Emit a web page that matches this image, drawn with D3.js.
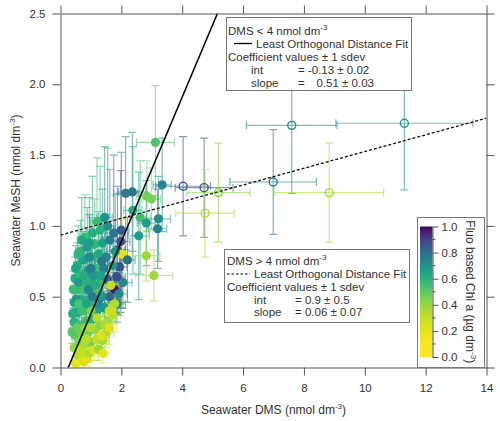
<!DOCTYPE html>
<html>
<head>
<meta charset="utf-8">
<script src="https://cdn.jsdelivr.net/npm/d3@7"></script>
<style>
  body { margin: 0; background: #fff; }
  svg { display: block; font-family: "Liberation Sans", Arial, sans-serif; }
</style>
</head>
<body>
<svg id="chart" width="500" height="421"></svg>
<script>
// ---- data ----
// DMS < 4 nmol dm-3 (filled markers)
const lowDMS = [
  3.12,2.14,2.36,3.34,2.84,2.99,2.38,2.62,3.22,2.82,
  3.19,2.57,2.00,1.98,1.87,2.03,2.82,3.07,1.78,1.94,
  2.05,1.67,2.20,0.50,0.62,0.75,0.88,0.55,0.70,0.95,
  1.10,1.25,0.45,0.60,0.80,1.00,1.18,1.38,1.50,0.48,
  0.72,0.92,1.15,0.45,0.62,0.85,1.05,1.30,1.55,1.72,
  0.55,0.78,1.20,1.45,1.85,0.45,0.68,0.95,1.12,1.38,
  1.62,1.92,0.52,0.80,1.02,1.28,1.55,1.85,0.48,0.65,
  0.90,1.15,1.42,1.72,0.55,0.75,1.00,1.25,1.50,0.65,
  0.88,1.12,1.38,1.62,0.80,1.05,1.30,1.55,1.75,1.20,
  1.45,0.60,0.70,1.00,1.25,0.85,1.10,1.65,1.78,1.60,
  1.45,1.35,1.60,0.95,0.70,1.35,1.80,0.40,0.42,0.50,
  0.58,0.38,0.52,0.75,0.92,1.15,1.32,0.60,0.85,1.05,
  0.75,1.00,0.55,0.80,1.00,0.65,0.85,1.40,1.20,0.95];
const lowMeSH = [
  1.59,1.23,1.24,1.29,1.21,1.19,1.11,1.06,1.05,1.02,
  0.98,0.93,0.97,0.89,0.83,0.80,0.79,0.65,0.55,0.71,
  0.60,0.42,0.76,0.03,0.05,0.04,0.06,0.09,0.10,0.10,
  0.12,0.13,0.14,0.17,0.16,0.18,0.20,0.19,0.24,0.23,
  0.24,0.25,0.27,0.32,0.30,0.33,0.34,0.30,0.33,0.37,
  0.39,0.40,0.40,0.42,0.45,0.46,0.48,0.47,0.52,0.50,
  0.50,0.52,0.55,0.56,0.60,0.60,0.62,0.64,0.63,0.66,
  0.68,0.70,0.70,0.72,0.72,0.76,0.78,0.80,0.78,0.82,
  0.85,0.87,0.88,0.90,0.92,0.95,0.97,1.00,0.95,1.03,
  1.06,0.60,0.40,0.40,0.45,0.60,0.65,0.58,0.45,0.40,
  0.30,0.22,0.28,0.78,0.90,0.75,0.82,0.38,0.55,0.70,
  0.80,0.25,0.48,0.55,0.55,0.58,0.65,0.45,0.45,0.50,
  0.65,0.70,0.28,0.28,0.28,0.12,0.20,0.10,0.35,0.88];
const lowDMSErr = [
  0.62,0.40,0.45,0.30,0.35,0.30,0.30,0.35,0.40,0.30,
  0.30,0.35,0.25,0.30,0.25,0.30,0.45,0.62,0.20,0.25,
  0.30,0.20,0.25,0.10,0.12,0.12,0.15,0.10,0.15,0.15,
  0.18,0.20,0.10,0.12,0.15,0.18,0.20,0.22,0.25,0.10,
  0.15,0.18,0.20,0.10,0.12,0.15,0.18,0.22,0.25,0.25,
  0.12,0.15,0.20,0.22,0.28,0.10,0.15,0.18,0.20,0.22,
  0.25,0.28,0.12,0.15,0.18,0.20,0.25,0.28,0.12,0.15,
  0.18,0.20,0.22,0.25,0.12,0.15,0.18,0.22,0.25,0.15,
  0.18,0.20,0.25,0.25,0.18,0.20,0.22,0.25,0.28,0.22,
  0.25,0.12,0.12,0.18,0.20,0.15,0.18,0.25,0.25,0.22,
  0.22,0.20,0.25,0.18,0.15,0.22,0.28,0.10,0.10,0.12,
  0.12,0.10,0.12,0.15,0.18,0.20,0.22,0.12,0.15,0.18,
  0.15,0.18,0.10,0.15,0.18,0.12,0.15,0.20,0.20,0.18];
const lowMeSHErr = [
  0.40,0.40,0.42,0.33,0.25,0.22,0.45,0.40,0.30,0.30,
  0.28,0.45,0.55,0.50,0.45,0.25,0.18,0.18,0.12,0.25,
  0.18,0.12,0.30,0.05,0.05,0.05,0.05,0.06,0.06,0.06,
  0.07,0.08,0.06,0.07,0.07,0.08,0.08,0.09,0.10,0.08,
  0.08,0.09,0.10,0.10,0.10,0.10,0.10,0.12,0.12,0.12,
  0.12,0.12,0.12,0.12,0.13,0.12,0.13,0.14,0.14,0.14,
  0.15,0.15,0.14,0.15,0.16,0.16,0.16,0.16,0.15,0.16,
  0.18,0.20,0.22,0.20,0.16,0.20,0.28,0.30,0.30,0.22,
  0.28,0.32,0.38,0.50,0.30,0.40,0.45,0.55,0.55,0.45,
  0.50,0.14,0.12,0.12,0.13,0.15,0.16,0.15,0.14,0.13,
  0.12,0.10,0.12,0.30,0.30,0.30,0.40,0.10,0.13,0.16,
  0.20,0.08,0.12,0.14,0.15,0.16,0.18,0.12,0.12,0.14,
  0.16,0.20,0.09,0.09,0.10,0.06,0.08,0.07,0.11,0.32];
const lowChl = [
  0.53,0.77,0.78,0.74,0.47,0.45,0.63,0.55,0.71,0.67,
  0.74,0.67,0.84,0.87,0.87,0.22,0.39,0.39,0.97,0.87,
  0.74,0.22,0.80,0.22,0.15,0.25,0.20,0.32,0.28,0.35,
  0.22,0.38,0.40,0.42,0.35,0.44,0.30,0.38,0.32,0.50,
  0.45,0.46,0.38,0.60,0.56,0.55,0.60,0.42,0.38,0.33,
  0.64,0.60,0.66,0.68,0.76,0.66,0.62,0.60,0.56,0.68,
  0.82,0.72,0.58,0.72,0.64,0.58,0.84,0.88,0.62,0.56,
  0.70,0.56,0.76,0.68,0.60,0.66,0.58,0.64,0.74,0.60,
  0.68,0.58,0.66,0.76,0.56,0.62,0.60,0.72,0.78,0.56,
  0.70,0.68,0.56,0.45,0.72,0.60,0.68,0.30,0.35,0.28,
  0.36,0.25,0.22,0.72,0.64,0.78,0.68,0.62,0.56,0.64,
  0.58,0.52,0.68,0.56,0.74,0.62,0.66,0.54,0.64,0.76,
  0.62,0.76,0.48,0.42,0.35,0.30,0.33,0.20,0.32,0.66];

// DMS > 4 nmol dm-3 (open markers)
const highDMS     = [4.03, 4.72, 5.19, 4.75, 6.99, 7.60, 8.83, 11.30];
const highMeSH    = [1.28, 1.27, 1.235, 1.09, 1.31, 1.71, 1.235, 1.725];
const highDMSErr  = [0.90, 0.95, 1.04, 0.96, 1.42, 1.49, 1.79, 2.25];
const highMeSHErr = [0.35, 0.35, 0.35, 0.31, 0.37, 0.48, 0.35, 0.47];
const highChl     = [0.84, 0.85, 0.42, 0.35, 0.77, 0.70, 0.35, 0.68];

// fits: [intercept, slope]
const fitLow  = [-0.13, 0.51];
const fitHigh = [0.935, 0.059];

const xTicks   = [0, 2, 4, 6, 8, 10, 12, 14];
const yTicks   = [0, 0.5, 1.0, 1.5, 2.0, 2.5];
const chlTicks = [0, 0.2, 0.4, 0.6, 0.8, 1.0];
const chlMinor = [0.1, 0.3, 0.5, 0.7, 0.9];

// ---- setup ----
const svg = d3.select("#chart");
const AXC = "#555", TXC = "#333";
const FS = 11.5;

const x = d3.scaleLinear().domain([0, 14]).range([60.5, 486.5]);
const y = d3.scaleLinear().domain([0, 2.5]).range([367.5, 13.5]);

// chl colour: reversed viridis, compressed toward the high end
const chlColor = c => d3.interpolateViridis(1 - Math.pow(Math.max(0, Math.min(1, c)), 2));

svg.append("clipPath").attr("id", "plotclip")
  .append("rect")
  .attr("x", x(0)).attr("y", y(2.5))
  .attr("width", x(14) - x(0)).attr("height", y(0) - y(2.5));

const plot = svg.append("g").attr("clip-path", "url(#plotclip)");

// error bars with caps
function errPath(xs, ys, exs, eys, i) {
  const px = x(xs[i]), py = y(ys[i]);
  const x0 = x(xs[i] - exs[i]), x1 = x(xs[i] + exs[i]);
  const y0 = y(ys[i] - eys[i]), y1 = y(ys[i] + eys[i]);
  const c = 4;
  return `M${x0},${py}H${x1}M${px},${y0}V${y1}` +
         `M${x0},${py - c}V${py + c}M${x1},${py - c}V${py + c}` +
         `M${px - c},${y0}H${px + c}M${px - c},${y1}H${px + c}`;
}

plot.append("g").selectAll("path")
  .data(d3.range(lowDMS.length))
  .join("path")
  .attr("d", i => errPath(lowDMS, lowMeSH, lowDMSErr, lowMeSHErr, i))
  .attr("fill", "none")
  .attr("stroke", i => chlColor(lowChl[i]))
  .attr("stroke-opacity", 0.55)
  .attr("stroke-width", 1.2);

plot.append("g").selectAll("path")
  .data(d3.range(highDMS.length))
  .join("path")
  .attr("d", i => errPath(highDMS, highMeSH, highDMSErr, highMeSHErr, i))
  .attr("fill", "none")
  .attr("stroke", i => chlColor(highChl[i]))
  .attr("stroke-opacity", 0.6)
  .attr("stroke-width", 1.2);

// markers
plot.append("g").selectAll("circle")
  .data(d3.range(lowDMS.length))
  .join("circle")
  .attr("cx", i => x(lowDMS[i]))
  .attr("cy", i => y(lowMeSH[i]))
  .attr("r", 4.6)
  .attr("fill", i => chlColor(lowChl[i]));

plot.append("g").selectAll("circle")
  .data(d3.range(highDMS.length))
  .join("circle")
  .attr("cx", i => x(highDMS[i]))
  .attr("cy", i => y(highMeSH[i]))
  .attr("r", 4)
  .attr("fill", "none")
  .attr("stroke", i => chlColor(highChl[i]))
  .attr("stroke-width", 1.4);

// fit lines
const fitLine = f => d3.line()([[x(0), y(f[0])], [x(14), y(f[0] + f[1] * 14)]]);

plot.append("path")
  .attr("d", fitLine(fitHigh))
  .attr("stroke", "#111").attr("stroke-width", 1.3)
  .attr("stroke-dasharray", "3,2").attr("fill", "none");

plot.append("path")
  .attr("d", fitLine(fitLow))
  .attr("stroke", "#000").attr("stroke-width", 1.5).attr("fill", "none");

// ---- axes ----
function styleAxis(g) {
  g.selectAll("path.domain").attr("stroke", AXC);
  g.selectAll(".tick line").attr("stroke", AXC);
  g.selectAll(".tick text").attr("fill", TXC).style("font-size", FS + "px")
    .style("font-family", '"Liberation Sans", Arial, sans-serif');
}

svg.append("g").attr("transform", `translate(0,${y(0)})`)
  .call(d3.axisBottom(x).tickValues(xTicks).tickSize(8).tickSizeOuter(0)
    .tickPadding(8).tickFormat(d3.format("d")))
  .call(styleAxis);

svg.append("g").attr("transform", `translate(${x(0)},0)`)
  .call(d3.axisLeft(y).tickValues(yTicks).tickSize(8).tickSizeOuter(0)
    .tickPadding(7).tickFormat(d3.format(".1f")))
  .call(styleAxis);

svg.append("g").attr("transform", `translate(0,${y(2.5)})`)
  .call(d3.axisTop(x).tickValues(xTicks).tickSize(8).tickSizeOuter(0).tickFormat(""))
  .call(styleAxis);

svg.append("g").attr("transform", `translate(${x(14)},0)`)
  .call(d3.axisRight(y).tickValues(yTicks).tickSize(8).tickSizeOuter(0).tickFormat(""))
  .call(styleAxis);

// helper: text with superscript "-3"
function supText(g, attrs, before, after) {
  const t = g.append("text").attr("fill", TXC);
  Object.entries(attrs).forEach(([k, v]) => t.attr(k, v));
  t.append("tspan").text(before);
  t.append("tspan").attr("dy", -5).style("font-size", "8px").text("-3");
  if (after) t.append("tspan").attr("dy", 5).text(after);
  return t;
}

supText(svg, { x: x(7), y: 414, "text-anchor": "middle", "font-size": 12 },
  "Seawater DMS (nmol dm", ")");

supText(svg, { transform: `translate(20,${(y(0) + y(2.5)) / 2}) rotate(-90)`,
  "text-anchor": "middle", "font-size": 12 }, "Seawater MeSH (nmol dm", ")");

// ---- legends ----
function legendBox(bx, by, bw, bh) {
  svg.append("rect").attr("x", bx).attr("y", by).attr("width", bw).attr("height", bh)
    .attr("fill", "#fff").attr("stroke", "#777").attr("stroke-width", 1);
}

// DMS < 4
legendBox(226.5, 17.5, 185, 73);
const lg1 = svg.append("g").attr("font-size", FS);
supText(lg1, { x: 228, y: 35 }, "DMS < 4 nmol dm");
lg1.append("line").attr("x1", 234).attr("x2", 252).attr("y1", 43.5).attr("y2", 43.5)
  .attr("stroke", "#000").attr("stroke-width", 1.3);
lg1.append("text").attr("x", 256).attr("y", 47.5).attr("fill", TXC).text("Least Orthogonal Distance Fit");
lg1.append("text").attr("x", 228).attr("y", 60.5).attr("fill", TXC).text("Coefficient values \u00b1 1 sdev");
lg1.append("text").attr("x", 251).attr("y", 74).attr("fill", TXC).text("int");
lg1.append("text").attr("x", 298).attr("y", 74).attr("fill", TXC)
  .text(`= ${fitLow[0].toFixed(2)} \u00b1 0.02`);
lg1.append("text").attr("x", 251).attr("y", 86.5).attr("fill", TXC).text("slope");
lg1.append("text").attr("x", 298).attr("y", 86.5).attr("fill", TXC).text("=");
lg1.append("text").attr("x", 316.5).attr("y", 86.5).attr("fill", TXC)
  .text(`${fitLow[1].toFixed(2)} \u00b1 0.03`);

// DMS > 4
legendBox(224.5, 249.5, 185, 73);
const lg2 = svg.append("g").attr("font-size", FS);
supText(lg2, { x: 227, y: 265 }, "DMS > 4 nmol dm");
lg2.append("line").attr("x1", 227).attr("x2", 250).attr("y1", 274).attr("y2", 274)
  .attr("stroke", "#000").attr("stroke-width", 1.2).attr("stroke-dasharray", "2.5,2");
lg2.append("text").attr("x", 254).attr("y", 278).attr("fill", TXC).text("Least Orthogonal Distance Fit");
lg2.append("text").attr("x", 227).attr("y", 291).attr("fill", TXC).text("Coefficient values \u00b1 1 sdev");
lg2.append("text").attr("x", 254).attr("y", 303.5).attr("fill", TXC).text("int");
lg2.append("text").attr("x", 295).attr("y", 303.5).attr("fill", TXC).text("= 0.9 \u00b1 0.5");
lg2.append("text").attr("x", 254).attr("y", 316).attr("fill", TXC).text("slope");
lg2.append("text").attr("x", 295).attr("y", 316).attr("fill", TXC).text("= 0.06 \u00b1 0.07");

// ---- colour bar ----
legendBox(417.5, 217.5, 67, 150);
const cy = d3.scaleLinear().domain([0, 1]).range([357, 226.5]);
const grad = svg.append("defs").append("linearGradient").attr("id", "chlgrad")
  .attr("x1", 0).attr("y1", 1).attr("x2", 0).attr("y2", 0);
grad.selectAll("stop").data(d3.range(0, 1.0001, 0.02)).join("stop")
  .attr("offset", d => d).attr("stop-color", d => chlColor(d));
svg.append("rect").attr("x", 420).attr("y", cy(1)).attr("width", 12.5)
  .attr("height", cy(0) - cy(1)).attr("fill", "url(#chlgrad)");

const cbAxis = svg.append("g").attr("transform", "translate(432.5,0)");
cbAxis.call(d3.axisRight(cy).tickValues(chlTicks).tickSize(6).tickSizeOuter(0)
  .tickPadding(3).tickFormat(d3.format(".1f")))
  .call(styleAxis);
cbAxis.selectAll(".minor").data(chlMinor).join("line").attr("class", "minor")
  .attr("x1", 0).attr("x2", 3).attr("y1", d => cy(d)).attr("y2", d => cy(d))
  .attr("stroke", AXC);

supText(svg, { transform: `translate(466,${(cy(0) + cy(1)) / 2}) rotate(90)`,
  "text-anchor": "middle", "font-size": 12 }, "Fluo based Chl a (\u00b5g dm", ")");
</script>
</body>
</html>
